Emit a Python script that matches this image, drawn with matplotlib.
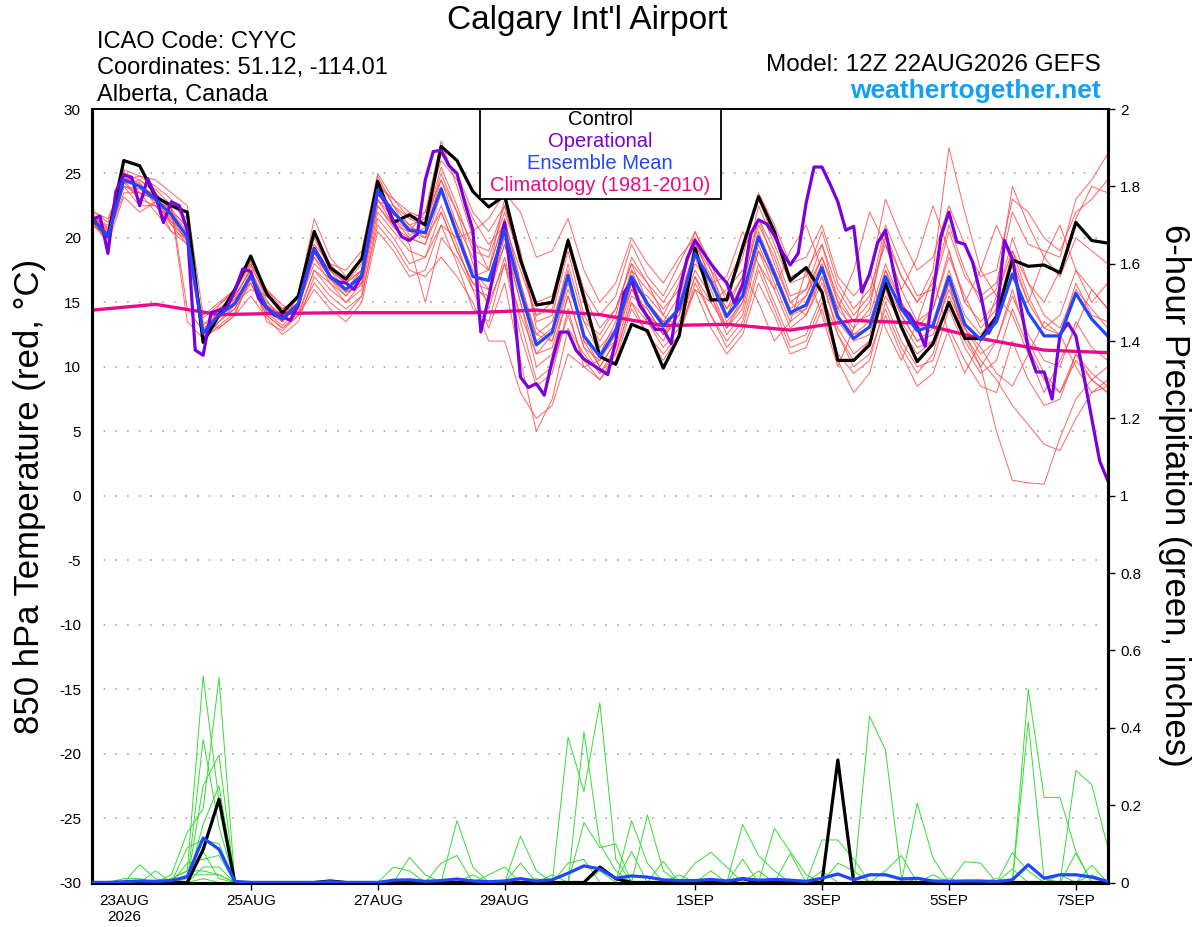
import numpy as np
import matplotlib
matplotlib.use('Agg')
import matplotlib.pyplot as plt
from matplotlib.patches import Rectangle

plt.rcParams['font.family'] = ['Liberation Sans', 'DejaVu Sans']
plt.rcParams['axes.unicode_minus'] = False

# forecast hours after 12Z 22AUG2026
hours6 = np.arange(0, 385, 6)
hours3 = np.arange(0, 385, 3)
clim_hours = np.arange(0, 385, 24)

tick_hours = [12, 60, 108, 156, 228, 276, 324, 372]
tick_labels = ['23AUG\n2026', '25AUG', '27AUG', '29AUG', '1SEP', '3SEP', '5SEP', '7SEP']

# 850 hPa temperature (C)
control_t = [
    21.5, 20.1, 26.0, 25.6, 23.2, 22.5, 22.0, 11.9, 14.0, 16.0,
    18.6, 15.7, 14.2, 15.5, 20.5, 17.7, 16.8, 18.4, 24.4, 21.2,
    21.8, 21.0, 27.1, 26.0, 23.6, 22.4, 23.3, 18.3, 14.8, 15.0,
    19.8, 15.4, 10.8, 10.2, 13.3, 12.8, 9.9, 12.4, 19.2, 15.2,
    15.2, 19.3, 23.2, 20.5, 16.7, 17.7, 15.8, 10.5, 10.5, 11.7,
    16.5, 13.1, 10.4, 11.8, 15.0, 12.2, 12.2, 13.9, 18.3, 17.8,
    17.9, 17.3, 21.2, 19.8, 19.6]

mean_t = [
    21.5, 20.1, 24.5, 24.0, 23.0, 21.8, 20.1, 12.6, 14.0, 14.9,
    17.1, 14.6, 13.7, 14.9, 19.1, 17.0, 16.0, 17.1, 23.7, 22.0,
    20.6, 20.4, 23.8, 20.3, 17.0, 16.7, 20.6, 15.9, 11.7, 12.7,
    17.1, 12.4, 10.8, 12.8, 17.0, 14.9, 13.2, 14.5, 18.8, 16.6,
    13.9, 15.5, 20.1, 17.2, 14.2, 14.8, 17.7, 13.9, 12.2, 13.1,
    17.0, 14.5, 12.8, 13.2, 17.0, 13.3, 12.1, 13.5, 17.2, 14.2,
    12.4, 12.4, 15.7, 13.7, 12.4]

# operational run is 3-hourly
oper_t = [
    21.4, 21.7, 18.8, 23.6, 24.9, 24.7, 22.5, 24.6, 23.3, 21.2,
    22.8, 22.5, 20.6, 11.3, 10.9, 14.2, 14.4, 14.6, 15.9, 17.6,
    17.4, 15.3, 14.6, 14.0, 13.9, 13.6, 14.8, 17.2, 19.2, 18.2,
    17.0, 16.6, 16.5, 16.0, 17.1, 20.6, 23.6, 22.7, 21.2, 20.1,
    19.8, 20.3, 24.5, 26.7, 26.8, 25.6, 25.0, 22.7, 20.6, 12.7,
    15.4, 18.5, 21.2, 15.9, 9.2, 8.4, 8.7, 7.8, 10.5, 12.7,
    12.7, 11.3, 10.6, 10.2, 9.8, 9.4, 12.0, 15.7, 16.7, 14.8,
    13.9, 12.9, 12.9, 11.8, 15.8, 18.4, 19.8, 18.9, 18.0, 17.2,
    16.5, 14.9, 16.4, 20.3, 21.4, 21.1, 20.2, 18.9, 17.9, 18.8,
    22.7, 25.5, 25.5, 24.2, 22.8, 20.6, 20.9, 15.8, 17.2, 19.6,
    20.6, 17.5, 14.6, 14.1, 13.1, 11.6, 15.7, 20.1, 22.0, 19.7,
    19.5, 18.1, 15.6, 12.6, 13.8, 19.8, 18.4, 14.9, 11.4, 9.6,
    9.6, 7.5, 12.5, 13.4, 12.4, 9.3, 6.0, 2.7, 1.2]

clim_t = [14.4, 14.85, 14.05, 14.15, 14.2, 14.2, 14.2, 14.4, 14.05,
          13.2, 13.3, 12.85, 13.6, 13.4, 12.2, 11.3, 11.1]

member_t = [
    [21.8, 20.5, 25.0, 24.5, 23.5, 22.0, 21.0, 12.5, 14.5, 15.5,
     17.5, 15.0, 14.0, 15.0, 20.0, 17.5, 16.5, 17.5, 24.5, 22.5,
     21.0, 21.5, 26.5, 25.0, 22.0, 20.5, 22.5, 18.0, 14.0, 14.5,
     19.5, 15.0, 11.5, 13.0, 17.5, 16.0, 14.5, 16.0, 20.0, 18.0,
     16.5, 19.0, 23.0, 20.0, 17.0, 17.5, 19.5, 16.0, 14.0, 15.5,
     21.0, 18.0, 15.5, 16.0, 20.5, 17.0, 15.5, 16.5, 22.0, 19.5,
     19.0, 18.5, 23.0, 24.5, 26.5],
    [21.2, 19.8, 24.0, 22.5, 22.5, 21.0, 19.5, 12.0, 13.5, 14.5,
     16.5, 14.0, 13.0, 14.0, 17.5, 16.0, 15.0, 16.0, 22.0, 20.5,
     19.0, 18.5, 21.0, 18.0, 14.5, 13.5, 18.0, 12.5, 8.5, 9.5,
     14.5, 10.0, 9.0, 11.0, 15.0, 12.5, 11.0, 12.5, 16.5, 14.0,
     11.5, 13.0, 17.5, 14.5, 11.5, 12.0, 15.0, 11.0, 9.5, 10.5,
     15.0, 12.0, 10.0, 10.5, 14.5, 11.5, 9.5, 10.5, 14.5, 11.5,
     9.0, 8.0, 11.0, 9.0, 8.0],
    [21.5, 21.0, 24.5, 23.0, 23.8, 22.5, 14.5, 12.8, 14.2, 15.0,
     16.0, 15.5, 14.5, 15.2, 18.5, 17.0, 16.0, 17.5, 23.0, 21.0,
     20.5, 22.0, 27.5, 24.0, 20.0, 17.5, 23.0, 19.0, 13.0, 12.0,
     16.0, 13.5, 12.5, 14.5, 18.0, 16.5, 15.0, 17.0, 19.5, 17.0,
     14.5, 16.0, 21.5, 19.0, 15.5, 16.0, 18.5, 15.5, 13.5, 14.0,
     18.0, 15.0, 13.0, 14.5, 19.0, 15.0, 13.5, 15.0, 20.0, 16.5,
     14.0, 13.0, 16.0, 14.5, 13.0],
    [21.0, 20.0, 23.5, 23.5, 22.0, 20.5, 20.0, 13.5, 13.0, 14.0,
     17.0, 13.5, 12.8, 14.0, 16.5, 15.0, 14.0, 15.5, 21.0, 19.5,
     17.5, 17.0, 18.5, 17.0, 15.0, 12.0, 12.0, 8.0, 6.0, 7.0,
     11.0, 10.0, 10.5, 13.0, 16.0, 14.0, 13.0, 14.5, 18.0, 16.5,
     13.5, 15.0, 19.0, 17.0, 14.0, 14.5, 17.0, 13.5, 12.0, 12.5,
     16.5, 14.0, 12.0, 12.5, 16.0, 13.0, 11.5, 9.5, 8.5, 11.0,
     13.5, 12.5, 10.0, 8.0, 9.0],
    [21.8, 20.8, 24.8, 24.0, 23.0, 22.5, 21.5, 12.0, 14.8, 15.8,
     18.0, 15.2, 13.5, 15.0, 19.5, 18.0, 16.5, 17.5, 24.0, 21.5,
     20.0, 19.5, 23.5, 21.0, 18.5, 17.5, 21.5, 16.5, 12.0, 13.0,
     18.0, 13.5, 11.0, 12.0, 16.5, 14.0, 12.5, 14.0, 18.5, 15.5,
     13.0, 15.0, 20.0, 17.5, 14.0, 15.5, 18.0, 14.5, 13.0, 14.5,
     20.5, 17.0, 15.0, 17.5, 27.0, 22.0, 17.5, 15.5, 19.0, 15.5,
     13.0, 14.0, 17.5, 16.0, 14.5],
    [22.0, 21.5, 24.5, 24.8, 24.0, 23.0, 21.0, 12.5, 14.0, 15.5,
     17.5, 14.5, 13.5, 15.5, 20.5, 17.5, 16.0, 16.5, 23.5, 22.0,
     21.0, 20.0, 22.0, 19.0, 16.5, 16.0, 19.5, 15.0, 11.0, 12.5,
     17.0, 12.0, 10.0, 12.0, 17.0, 13.5, 12.0, 14.5, 19.5, 17.5,
     14.0, 16.5, 21.0, 18.5, 15.0, 14.0, 17.0, 12.5, 10.5, 12.0,
     16.0, 13.0, 11.0, 12.0, 16.5, 12.0, 10.0, 12.0, 16.0, 12.0,
     9.5, 8.0, 10.5, 9.0, 8.0],
    [21.5, 20.2, 24.2, 24.5, 23.5, 22.0, 20.5, 13.0, 14.0, 15.0,
     16.8, 14.8, 14.0, 15.0, 19.0, 17.5, 16.5, 18.0, 24.8, 22.5,
     21.5, 21.0, 25.5, 22.5, 19.0, 18.5, 22.0, 18.5, 15.0, 15.5,
     20.0, 16.0, 14.0, 15.5, 19.5, 17.0, 15.5, 18.0, 20.5, 17.5,
     15.5, 18.5, 23.5, 21.0, 18.0, 18.5, 21.0, 17.0, 15.5, 17.0,
     23.0, 20.0, 17.5, 18.5, 22.5, 19.5, 17.0, 17.5, 23.0, 22.0,
     20.0, 19.0, 22.0, 23.0, 24.5],
    [21.3, 20.0, 24.0, 23.8, 22.8, 21.5, 19.8, 12.3, 13.5, 14.8,
     17.2, 14.2, 13.2, 14.5, 18.5, 16.5, 15.5, 16.8, 23.0, 21.5,
     20.5, 20.0, 24.0, 20.5, 17.5, 16.0, 20.0, 15.0, 10.0, 11.0,
     15.5, 11.5, 10.5, 12.5, 16.5, 15.0, 13.5, 14.0, 17.5, 15.5,
     12.5, 14.0, 19.0, 16.0, 13.0, 14.0, 16.5, 13.0, 11.0, 12.0,
     15.5, 13.5, 11.5, 12.0, 15.0, 12.5, 10.5, 9.0, 7.0, 5.5,
     4.0, 3.5, 6.0, 8.0, 8.5],
    [21.7, 20.3, 24.6, 24.2, 23.2, 21.0, 20.0, 12.7, 13.8, 14.5,
     17.0, 14.5, 13.8, 14.8, 18.8, 17.0, 15.8, 16.5, 22.5, 21.0,
     19.5, 15.0, 20.0, 18.5, 16.0, 13.0, 16.5, 10.5, 5.0, 7.5,
     13.0, 11.0, 9.5, 11.5, 15.5, 14.5, 12.5, 13.5, 17.0, 15.0,
     16.0, 17.5, 15.0, 12.0, 13.5, 17.5, 14.0, 10.0, 13.0, 17.5,
     13.0, 10.5, 13.5, 17.0, 12.5, 9.5, 12.0, 15.5, 14.0, 11.0,
     8.0, 10.5, 13.0, 16.0, 14.5],
    [21.6, 20.6, 25.2, 23.5, 23.0, 22.2, 20.8, 13.2, 14.5, 15.2,
     17.8, 15.5, 14.2, 15.5, 21.5, 18.5, 17.0, 18.5, 24.0, 23.0,
     22.0, 21.5, 24.5, 22.0, 19.5, 19.0, 22.5, 18.5, 13.5, 14.0,
     19.0, 14.0, 12.0, 14.0, 18.5, 16.5, 14.0, 16.5, 20.5, 18.0,
     15.0, 17.0, 22.5, 19.5, 16.5, 17.0, 20.5, 16.5, 14.5, 16.0,
     19.5, 16.0, 13.5, 14.5, 18.5, 15.5, 13.0, 14.5, 18.5, 15.0,
     13.0, 12.5, 16.5, 14.0, 13.5],
    [21.4, 20.1, 24.3, 23.0, 22.5, 21.3, 19.7, 12.8, 14.3, 15.3,
     16.5, 14.0, 13.0, 14.2, 17.5, 16.5, 15.0, 16.5, 22.5, 20.8,
     20.0, 19.5, 22.5, 19.5, 16.0, 15.5, 19.5, 16.0, 12.5, 12.0,
     16.5, 12.5, 10.0, 12.0, 16.0, 15.5, 14.0, 13.0, 16.0, 15.0,
     13.0, 14.5, 19.5, 16.5, 13.5, 14.5, 17.5, 14.0, 12.5, 13.0,
     17.5, 15.0, 13.0, 13.5, 17.5, 14.0, 12.5, 14.0, 19.0, 16.5,
     15.0, 17.5, 21.5, 24.0, 23.5],
    [21.9, 20.7, 24.7, 24.0, 23.3, 22.3, 13.5, 12.2, 14.0, 15.0,
     17.0, 14.8, 13.8, 14.5, 19.0, 16.8, 15.5, 17.0, 23.5, 21.8,
     20.8, 20.5, 24.5, 21.0, 17.0, 17.5, 21.5, 16.5, 12.5, 13.5,
     17.5, 12.0, 11.0, 13.5, 17.5, 14.5, 12.5, 15.0, 19.0, 16.0,
     13.0, 15.5, 20.5, 17.5, 14.5, 15.5, 18.5, 15.0, 12.5, 13.5,
     17.5, 14.0, 12.0, 13.0, 16.5, 12.5, 10.0, 5.0, 1.2, 1.0,
     0.9, 4.5, 7.5, 9.0, 10.0],
    [21.2, 19.6, 23.2, 22.0, 22.8, 20.5, 19.5, 13.8, 14.8, 16.0,
     18.2, 16.0, 14.8, 14.0, 16.0, 14.5, 13.5, 15.0, 20.5, 19.0,
     17.0, 17.5, 21.0, 20.0, 20.5, 21.5, 23.5, 22.0, 18.5, 19.0,
     21.5, 17.5, 15.0, 16.5, 20.0, 18.0, 16.5, 18.5, 20.0, 16.5,
     17.0, 20.5, 18.0, 16.0, 19.0, 21.0, 17.5, 14.5, 17.5, 22.0,
     19.5, 16.0, 18.5, 22.5, 19.0, 15.0, 17.5, 21.0, 18.0, 15.0,
     18.5, 21.0, 17.5, 15.0, 16.5],
    [21.6, 20.4, 24.5, 24.3, 22.5, 21.5, 20.2, 12.1, 13.2, 14.2,
     16.8, 14.3, 13.5, 14.8, 18.0, 16.8, 15.8, 16.3, 22.8, 22.5,
     20.2, 20.8, 25.0, 22.0, 18.0, 14.5, 18.5, 13.5, 9.0, 10.0,
     14.0, 10.5, 9.0, 10.5, 14.5, 12.5, 10.5, 12.5, 16.0, 13.0,
     11.0, 12.5, 16.5, 14.0, 11.0, 11.5, 14.5, 10.5, 8.0, 9.5,
     14.0, 11.0, 8.5, 9.5, 13.0, 10.5, 8.5, 8.0, 12.0, 9.0,
     7.0, 7.5, 11.0, 9.5, 8.5],
    [22.2, 21.2, 25.3, 24.8, 24.5, 23.5, 22.5, 14.0, 15.0, 16.0,
     18.0, 16.0, 14.5, 15.3, 20.5, 18.0, 17.5, 19.0, 25.0, 23.0,
     21.5, 22.0, 26.0, 24.5, 21.5, 19.5, 21.0, 17.5, 14.0, 15.0,
     20.0, 15.5, 13.0, 14.5, 18.0, 15.0, 13.5, 15.5, 19.0, 16.5,
     14.5, 17.0, 21.5, 18.0, 15.0, 16.0, 19.5, 15.0, 13.5, 15.0,
     20.0, 17.0, 15.0, 16.5, 21.0, 17.5, 15.0, 16.0, 24.0, 21.0,
     18.5, 17.0, 20.0, 19.0, 18.0],
    [21.4, 20.0, 24.0, 23.5, 23.0, 21.2, 20.5, 12.4, 13.0, 14.0,
     15.5, 13.8, 12.5, 13.5, 17.0, 15.5, 14.5, 15.5, 21.5, 20.0,
     18.0, 18.5, 22.0, 19.0, 16.5, 15.0, 18.0, 14.0, 11.0, 11.5,
     15.5, 11.5, 9.5, 11.0, 15.0, 13.5, 11.5, 13.0, 17.0, 14.0,
     12.0, 13.5, 18.0, 15.0, 12.0, 12.5, 15.5, 12.5, 10.0, 11.0,
     14.5, 11.5, 9.5, 11.0, 15.5, 13.0, 11.0, 12.0, 15.5, 12.5,
     10.5, 10.0, 13.5, 11.5, 10.5],
]

# 6-hour precipitation (inches)
control_p = ([0] * 7 + [0.085, 0.215] + [0] * 6 + [0.004] + [0] * 16 + [0.04, 0.01]
             + [0] * 7 + [0.01] + [0] * 5 + [0.317] + [0] * 17)

mean_p = [
    0, 0, 0.002, 0.004, 0.003, 0.005, 0.015, 0.115, 0.086, 0.003,
    0, 0, 0, 0, 0, 0.002, 0, 0, 0, 0.006,
    0.007, 0.003, 0.005, 0.009, 0.004, 0.002, 0.004, 0.01, 0.004, 0.007,
    0.024, 0.043, 0.035, 0.011, 0.017, 0.014, 0.007, 0.005, 0.005, 0.008,
    0.004, 0.01, 0.006, 0.008, 0.006, 0.003, 0.011, 0.022, 0.007, 0.02,
    0.02, 0.009, 0.011, 0.004, 0.003, 0.004, 0.004, 0.002, 0.007, 0.046,
    0.011, 0.02, 0.02, 0.014, 0.003]

member_p = [
    [0] * 5 + [0.01, 0.03, 0.534, 0.21] + [0] * 21 + [0.376, 0.235, 0.465, 0.06] + [0] * 31,
    [0] * 5 + [0.02, 0.13, 0.19, 0.53] + [0] * 22 + [0.39, 0.1, 0.03] + [0] * 15
    + [0.43, 0.343, 0.015] + [0] * 13,
    [0] * 3 + [0.046, 0.01, 0, 0, 0.37, 0.145] + [0] * 14 + [0.16, 0.04] + [0] * 34
    + [0.5, 0.22, 0.22, 0.08] + [0] * 2,
    [0] * 4 + [0.03, 0, 0, 0.25, 0.33] + [0] * 18 + [0.12, 0.03] + [0] * 5 + [0.16, 0.05]
    + [0] * 16 + [0.205, 0.063] + [0] * 5 + [0.416, 0.01] + [0] * 4,
    [0] * 6 + [0.09, 0.11, 0.1] + [0] * 11 + [0.065, 0.02] + [0] * 13 + [0.175, 0.03]
    + [0] * 25 + [0.29, 0.253, 0.093],
    [0] * 6 + [0.05, 0.06, 0.07] + [0] * 22 + [0.155, 0.09, 0.1] + [0] * 7
    + [0.15, 0.07, 0.03] + [0] * 21,
    [0] * 7 + [0.04, 0.04] + [0] * 10 + [0.04, 0.03, 0, 0.05, 0.07] + [0] * 3 + [0.05]
    + [0] * 15 + [0.14, 0.08, 0.02] + [0] * 19,
    [0] * 5 + [0.01, 0.03, 0.03, 0.02] + [0] * 21 + [0.05, 0.06, 0, 0, 0.08, 0, 0.055]
    + [0] * 9 + [0.11, 0.11, 0.06] + [0] * 14 + [0.045, 0],
    [0] * 6 + [0.02, 0.02, 0.02] + [0] * 16 + [0.02, 0.04] + [0] * 11 + [0.05, 0.078, 0.04]
    + [0] * 6 + [0.05, 0.03] + [0] * 9 + [0.077, 0.03] + [0] * 5,
    [0] * 7 + [0.01] + [0] * 21 + [0.02, 0, 0, 0.03] + [0] * 6
    + [0.03, 0, 0.06, 0, 0, 0.075, 0, 0.03] + [0] * 3 + [0.03, 0.07] + [0] * 3
    + [0.054, 0.05] + [0] * 5 + [0.076, 0, 0],
    [0] * 6 + [0.01, 0.08, 0.01] + [0] * 15 + [0.02] + [0] * 12 + [0.02] + [0] * 4 + [0.03]
    + [0] * 10 + [0.02] + [0] * 4 + [0.035, 0, 0, 0.02, 0, 0.02, 0],
    [0, 0, 0.01, 0.01, 0, 0, 0, 0.15, 0.25] + [0] * 19 + [0.01] + [0] * 25
    + [0.01, 0, 0, 0.01] + [0] * 7,
]

C_RED = '#ff4a4a'
C_GREEN = '#33dd33'
C_PURPLE = '#7a00dc'
C_BLUE = '#2046ff'
C_PINK = '#ee0a86'

fig = plt.figure(figsize=(12, 9.27), dpi=100)
ax = fig.add_axes([0.0767, 0.048, 0.8463, 0.8344])
ax2 = ax.twinx()

# dotted guide lines at the temperature ticks
for v in range(-25, 30, 5):
    ax.axhline(v, color='#a8a8a8', lw=1.2, ls=(0, (1, 6)), zorder=1)

for m in member_t:
    ax.plot(hours6, m, color=C_RED, lw=0.7, alpha=0.85, zorder=2)
ax.plot(clim_hours, clim_t, color=C_PINK, lw=2.4, zorder=3)
ax.plot(hours6, control_t, color='black', lw=2.3, zorder=4)
ax.plot(hours3, oper_t, color=C_PURPLE, lw=2.3, zorder=5)
ax.plot(hours6, mean_t, color=C_BLUE, lw=2.3, zorder=6)

for m in member_p:
    ax2.plot(hours6, m, color=C_GREEN, lw=0.7, zorder=2)
ax2.plot(hours6, control_p, color='black', lw=2.3, zorder=4)
ax2.plot(hours6, mean_p, color=C_BLUE, lw=2.3, zorder=5)

ax.set_xlim(0, 384)
ax.set_ylim(-30, 30)
ax2.set_ylim(0, 2)

ax.set_yticks(range(-30, 31, 5))
ax.tick_params(axis='y', length=0, labelsize=11, pad=8)
ax.set_xticks(tick_hours)
ax.set_xticklabels(tick_labels)
ax.tick_params(axis='x', direction='out', length=5, width=1, labelsize=11, pad=3)
ax.xaxis.get_major_ticks()[0].tick1line.set_visible(False)

p_ticks = np.arange(0, 2.01, 0.2)
ax2.set_yticks(p_ticks)
ax2.set_yticklabels(['0', '0.2', '0.4', '0.6', '0.8', '1', '1.2', '1.4', '1.6', '1.8', '2'])
ax2.tick_params(axis='y', direction='out', length=5, width=1, labelsize=11, pad=4)

for a in (ax, ax2):
    for side in ('left', 'right', 'bottom'):
        a.spines[side].set_linewidth(2.2)
    a.spines['top'].set_linewidth(1.2)

# legend box
ax2.add_patch(Rectangle((0.3825, 0.8837), 0.2365, 0.1163, transform=ax2.transAxes,
                        facecolor='white', edgecolor='black', lw=1.3, zorder=10, clip_on=False))
leg_items = [('Control', 'black', 0.9858), ('Operational', C_PURPLE, 0.9586),
             ('Ensemble Mean', C_BLUE, 0.9302), ('Climatology (1981-2010)', C_PINK, 0.9011)]
for txt, col, yy in leg_items:
    ax2.text(0.5002, yy, txt, color=col, fontsize=14.5, ha='center', va='center',
             transform=ax2.transAxes, zorder=11)

# header text
fig.text(0.489, 0.978, "Calgary Int'l Airport", fontsize=24, ha='center', va='center')
fig.text(0.0808, 0.9547, 'ICAO Code: CYYC', fontsize=17, ha='left', va='center')
fig.text(0.0808, 0.9266, 'Coordinates: 51.12, -114.01', fontsize=17, ha='left', va='center')
fig.text(0.0808, 0.8975, 'Alberta, Canada', fontsize=17, ha='left', va='center')
fig.text(0.9175, 0.930, 'Model: 12Z 22AUG2026 GEFS', fontsize=17.5, ha='right', va='center')
fig.text(0.9175, 0.902, 'weathertogether.net', fontsize=19, fontweight='bold',
         color='#12a0f5', ha='right', va='center')

fig.text(0.025, 0.465, '850 hPa Temperature (red, °C)', rotation=90, fontsize=25,
         ha='center', va='center')
fig.text(0.979, 0.466, '6-hour Precipitation (green, inches)', rotation=270, fontsize=25,
         ha='center', va='center')

fig.savefig('out.png', dpi=100)
